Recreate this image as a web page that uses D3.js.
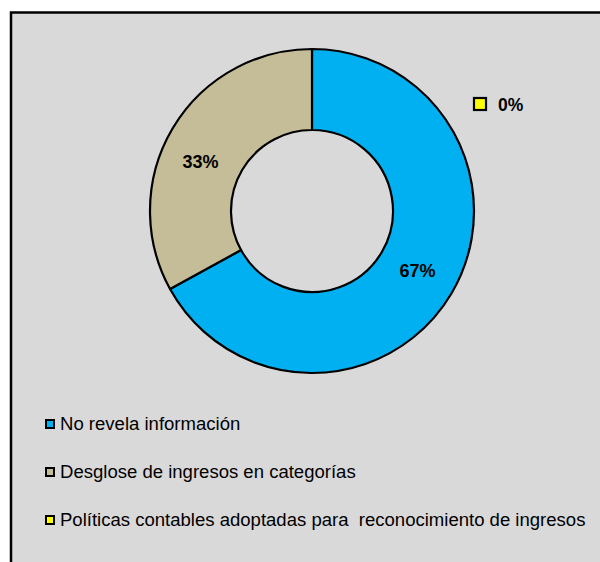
<!DOCTYPE html>
<html>
<head>
<meta charset="utf-8">
<script src="https://cdn.jsdelivr.net/npm/d3@7/dist/d3.min.js"></script>
<style>
  html, body { margin: 0; padding: 0; background: #ffffff; }
  svg { display: block; }
  text { font-family: "Liberation Sans", Arial, sans-serif; }
</style>
</head>
<body>
<svg id="chart" width="600" height="562"></svg>
<script>
// Revenue disclosure categories and their shares (%)
const categories = [
  "No revela información",
  "Desglose de ingresos en categorías",
  "Políticas contables adoptadas para  reconocimiento de ingresos"
];
const shares = [67, 33, 0];
const shareLabels = ["67%", "33%", "0%"];
const colors = ["#00b0f0", "#c4bd97", "#ffff00"];

const svg = d3.select("#chart");

// Chart area background with frame
svg.append("rect")
  .attr("x", 11).attr("y", 12.5)
  .attr("width", 640).attr("height", 620)
  .attr("fill", "#d9d9d9")
  .attr("stroke", "#000").attr("stroke-width", 2.5);

const cx = 312, cy = 211;
const outerR = 162, innerR = 81;

const data = categories.map((c, i) => ({ category: c, value: shares[i], label: shareLabels[i], color: colors[i] }));

const pie = d3.pie().sort(null).value(d => d.value);
const arc = d3.arc().innerRadius(innerR).outerRadius(outerR);
const arcs = pie(data);

const g = svg.append("g").attr("transform", `translate(${cx},${cy})`);

g.selectAll("path.slice")
  .data(arcs.filter(a => a.data.value > 0))
  .join("path")
  .attr("class", "slice")
  .attr("d", arc)
  .attr("fill", d => d.data.color)
  .attr("stroke", "#000")
  .attr("stroke-width", 2.2)
  .attr("stroke-linejoin", "round");

// Data labels: nudges from the arc centroid
const labelNudge = [[1, -2], [-7, 13]];
arcs.forEach((a, i) => {
  if (a.data.value <= 0) return;
  const [x, y] = arc.centroid(a);
  g.append("text")
    .attr("x", x + labelNudge[i][0])
    .attr("y", y + labelNudge[i][1])
    .attr("text-anchor", "middle")
    .attr("dominant-baseline", "central")
    .attr("font-size", 18)
    .attr("font-weight", "bold")
    .attr("fill", "#000")
    .text(a.data.label);
});

// Zero-share label with its legend key, set off to the upper right
const zero = arcs[2];
const zg = svg.append("g").attr("transform", "translate(473,97)");
zg.append("rect")
  .attr("x", 1).attr("y", 1).attr("width", 12).attr("height", 12)
  .attr("fill", zero.data.color).attr("stroke", "#000").attr("stroke-width", 2.2);
zg.append("text")
  .attr("x", 25).attr("y", 7.5)
  .attr("dominant-baseline", "central")
  .attr("font-size", 17.5).attr("font-weight", "bold")
  .attr("fill", "#000")
  .text(zero.data.label);

// Legend
const legend = svg.append("g").attr("transform", "translate(45,424)");
const rowStep = 48;
const rows = legend.selectAll("g.row")
  .data(data)
  .join("g")
  .attr("class", "row")
  .attr("transform", (d, i) => `translate(0,${i * rowStep})`);

rows.append("rect")
  .attr("x", 1).attr("y", -4).attr("width", 8).attr("height", 8)
  .attr("fill", d => d.color)
  .attr("stroke", "#000").attr("stroke-width", 2);

rows.append("text")
  .attr("transform", "translate(15,0) scale(1.06,1)")
  .attr("x", 0).attr("y", 0)
  .attr("dominant-baseline", "central")
  .attr("font-size", 17.5)
  .attr("fill", "#000")
  .style("white-space", "pre")
  .text(d => d.category);
</script>
</body>
</html>
